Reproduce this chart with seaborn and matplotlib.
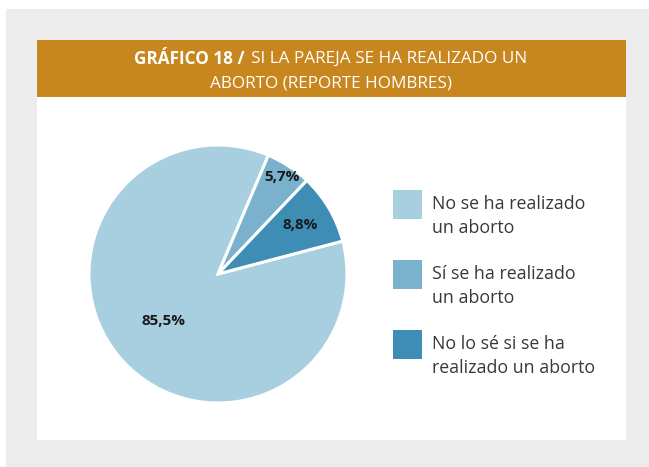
import seaborn as sns
import numpy as np
import matplotlib.pyplot as plt
from matplotlib.patches import Rectangle

# Data
categories = ['No se ha realizado\nun aborto',
              'Sí se ha realizado\nun aborto',
              'No lo sé si se ha\nrealizado un aborto']
values = [85.5, 5.7, 8.8]
value_labels = ['85,5%', '5,7%', '8,8%']
colors = ['#a8cfe0', '#7ab2cd', '#3d8db5']

sns.set_theme(style='white')
plt.rcParams['font.family'] = ['Open Sans', 'DejaVu Sans']

W, H = 649, 467
fig = plt.figure(figsize=(W / 100, H / 100), dpi=100)
fig.patch.set_facecolor('white')


def px(x, y, w, h):
    # pixel box (top-left origin) -> figure fraction
    return [x / W, 1 - (y + h) / H, w / W, h / H]


def box(x, y, w, h, color, z=0):
    b = px(x, y, w, h)
    fig.patches.append(Rectangle((b[0], b[1]), b[2], b[3], transform=fig.transFigure,
                                 facecolor=color, edgecolor='none', zorder=z))


# Background panels
box(6, 9, W - 6, H - 9, '#ececec')
box(37, 40, 589, 400, 'white')
box(37, 40, 589, 57, '#c8861f')

# Header text
fig.text(245 / W, 1 - 59 / H, 'GRÁFICO 18 /', ha='right', va='center',
         color='white', fontsize=12.3, fontweight='bold')
fig.text(251 / W, 1 - 59 / H, 'SI LA PAREJA SE HA REALIZADO UN', ha='left', va='center',
         color='white', fontsize=12.3)
fig.text(331 / W, 1 - 84 / H, 'ABORTO (REPORTE HOMBRES)', ha='center', va='center',
         color='white', fontsize=12.3)

# Pie
cx, cy, r = 218, 274, 129
ax = fig.add_axes(px(cx - r, cy - r, 2 * r, 2 * r))
ax.set_zorder(5)
ax.patch.set_alpha(0)
wedges, _ = ax.pie(values, colors=colors, startangle=14.8, counterclock=False,
                   wedgeprops=dict(edgecolor='white', linewidth=2.2))
ax.set_xlim(-1, 1)
ax.set_ylim(-1, 1)
ax.set_aspect('equal')
ax.axis('off')

label_r = [0.56, 0.9, 0.74]
for w, lab, rr in zip(wedges, value_labels, label_r):
    ang = np.deg2rad((w.theta1 + w.theta2) / 2)
    ax.text(rr * np.cos(ang), rr * np.sin(ang), lab, ha='center', va='center',
            fontsize=11, fontweight='bold', color='#1a1a1a')

# Legend
for i, (lab, col) in enumerate(zip(categories, colors)):
    top = 190 + i * 70
    box(393, top, 29, 29, col, z=1)
    fig.text(432 / W, 1 - (top + 5) / H, lab, ha='left', va='top',
             fontsize=12.8, color='#383838', linespacing=1.45)

fig.savefig('out.png', dpi=100)
